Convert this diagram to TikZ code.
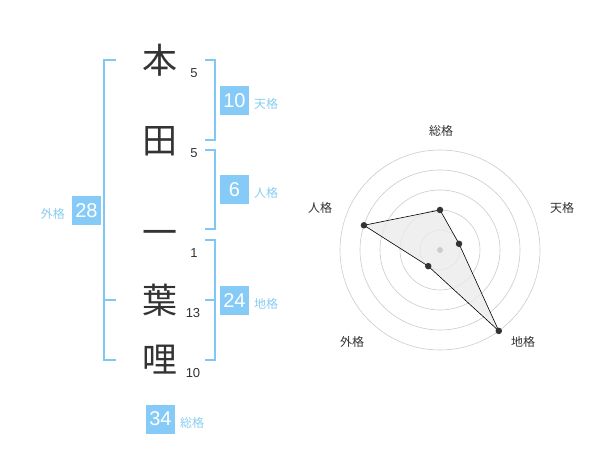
\documentclass[tikz,border=0pt]{standalone}
\usepackage{fontspec}
\newfontfamily\jp{Noto Sans CJK JP}
\newfontfamily\num{Liberation Sans}
\definecolor{ink}{HTML}{333333}
\definecolor{brk}{HTML}{7FC8F5}
\definecolor{boxc}{HTML}{86CBF8}
\definecolor{lbl}{HTML}{8ACDF3}
\definecolor{ring}{HTML}{CCCCCC}
\tikzset{
  kanji/.style={font=\jp\fontsize{35}{35}\selectfont, text=ink, inner sep=0pt},
  stroke/.style={font=\num\fontsize{13}{13}\selectfont, text=ink, inner sep=0pt},
  valbox/.style={fill=boxc, text=white, minimum width=29pt, minimum height=29pt, inner sep=0pt, font=\num\fontsize{20}{20}\selectfont},
  kaku/.style={font=\jp\fontsize{12}{12}\selectfont, text=lbl, inner sep=0pt},
  bracket/.style={draw=brk, line width=1.6pt},
  axislbl/.style={font=\jp\fontsize{12}{12}\selectfont, text=ink, inner sep=0pt},
  dot/.style={circle, fill=ink, minimum size=6.5pt, inner sep=0pt},
}
\begin{document}
\begin{tikzpicture}[x=1pt,y=-1pt]
\path[use as bounding box, fill=white] (0,0) rectangle (600,470);

% characters
\node[kanji] (k1) at (160,60) {本};
\node[kanji] (k2) at (160,141) {田};
\node[kanji] (k3) at (160,238) {一};
\node[kanji] (k4) at (160,300) {葉};
\node[kanji] (k5) at (160,360) {哩};
\node[stroke] (s1) at (194,73) {5};
\node[stroke] (s2) at (194,153) {5};
\node[stroke] (s3) at (194,253) {1};
\node[stroke] (s4) at (193,313) {13};
\node[stroke] (s5) at (193,373) {10};

% brackets
\coordinate (t1) at (205,60); \coordinate (t2) at (205,140);
\draw[bracket] (t1) -- (215,60) -- (215,140) -- (t2);
\coordinate (j1) at (205,150); \coordinate (j2) at (205,229);
\draw[bracket] (j1) -- (215,150) -- (215,229) -- (j2);
\coordinate (c1) at (205,240); \coordinate (c2) at (205,360); \coordinate (c3) at (205,300);
\draw[bracket] (c1) -- (215,240) -- (215,360) -- (c2);
\draw[bracket] (215,300) -- (c3);
\coordinate (g1) at (116,60); \coordinate (g2) at (116,360); \coordinate (g3) at (116,300);
\draw[bracket] (g1) -- (104,60) -- (104,360) -- (g2);
\draw[bracket] (104,300) -- (g3);

% value boxes
\node[valbox] (b1) at (234.5,100.5) {10};
\node[kaku, anchor=west] (l1) at (254,104) {天格};
\node[valbox] (b2) at (234.5,190) {6};
\node[kaku, anchor=west] (l2) at (254,193) {人格};
\node[valbox] (b3) at (234.5,300.5) {24};
\node[kaku, anchor=west] (l3) at (254,304) {地格};
\node[valbox] (b4) at (86.5,210.5) {28};
\node[kaku, anchor=east] (l4) at (65,214) {外格};
\node[valbox] (b5) at (160.5,419) {34};
\node[kaku, anchor=west] (l5) at (180,423) {総格};

% radar chart
\begin{scope}[shift={(440,250)}]
  \foreach \r in {20,40,60,80,100}
    \draw[ring, line width=0.6pt] (0,0) circle[radius=\r pt];
  \coordinate (rs) at (90:40pt);
  \coordinate (rt) at (18:20pt);
  \coordinate (rc) at (-54:100pt);
  \coordinate (rg) at (-126:20pt);
  \coordinate (rj) at (162:80pt);
  \draw[fill=black!8, fill opacity=0.8, draw=black, line width=0.6pt]
    (rs) -- (rt) -- (rc) -- (rg) -- (rj) -- cycle;
  \node[circle, fill=ring, minimum size=6pt, inner sep=0pt] (rc0) at (0,0) {};
  \node[dot] (ds) at (rs) {};
  \node[dot] (dt) at (rt) {};
  \node[dot] (dc) at (rc) {};
  \node[dot] (dg) at (rg) {};
  \node[dot] (dj) at (rj) {};
\end{scope}
\node[axislbl] (a1) at (441,131) {総格};
\node[axislbl] (a2) at (562,208) {天格};
\node[axislbl] (a3) at (523,342) {地格};
\node[axislbl] (a4) at (352,342) {外格};
\node[axislbl] (a5) at (320,208) {人格};
\end{tikzpicture}
\end{document}
